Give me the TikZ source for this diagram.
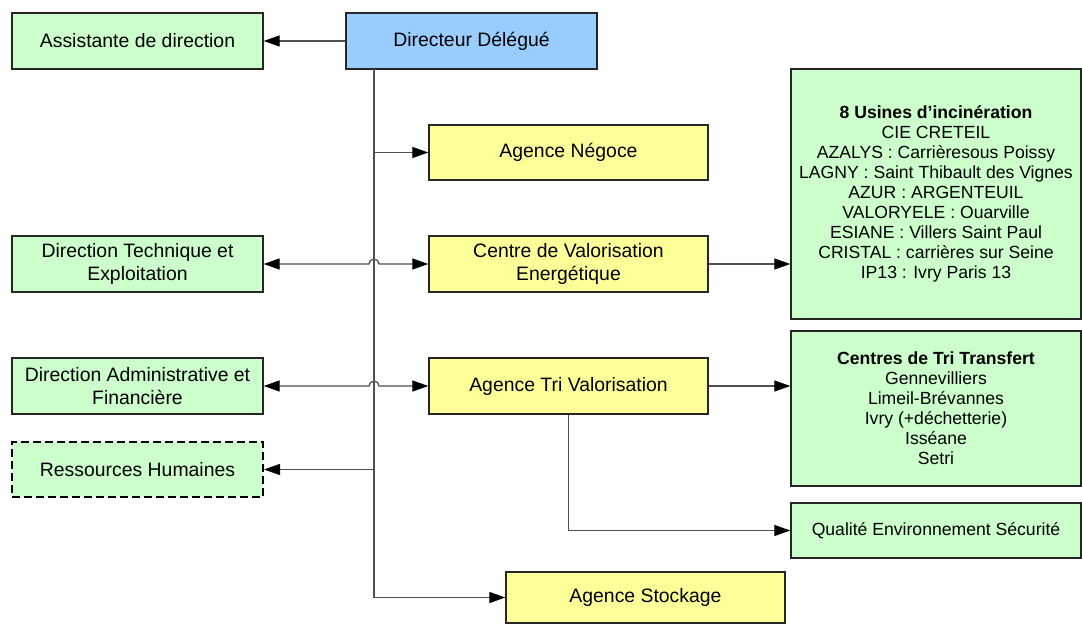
\documentclass[tikz,border=0pt]{standalone}
\usepackage{fontspec}
\setmainfont{Liberation Sans}
\usetikzlibrary{arrows.meta, calc}
\definecolor{boxgreen}{RGB}{204, 255, 204}
\definecolor{boxyellow}{RGB}{255, 255, 153}
\definecolor{boxblue}{RGB}{153, 204, 255}
\definecolor{linegray}{RGB}{80, 80, 80}

\begin{document}
\begin{tikzpicture}[
  x=1pt, y=-1pt,
  every node/.style={draw=black!85, line width=1.4pt, inner sep=0pt, align=center, font=\fontsize{19.4}{23}\selectfont},
  staff/.style={fill=boxgreen, minimum width=251pt, minimum height=56pt},
  vacant/.style={staff, draw=black, line width=2pt, dash pattern=on 8pt off 4pt},
  head/.style={fill=boxblue, minimum width=251pt, minimum height=56pt},
  agency/.style={fill=boxyellow, minimum width=279pt, minimum height=56pt},
  site/.style={fill=boxgreen, minimum width=290pt, font=\fontsize{17.6}{20}\selectfont},
  arr/.style={-{Triangle[length=16pt, width=11pt, color=black]}, line width=1.3pt, linegray},
  biarr/.style={{Triangle[length=16pt, width=11pt, color=black]}-{Triangle[length=16pt, width=11pt, color=black]}, line width=1.3pt, linegray}
]
  \useasboundingbox (0, 0) rectangle (1082, 624);

  % Top row
  \node[staff] (asst) at (137.5, 41) {Assistante de direction};
  \node[head]  (dir)  at (471.5, 41) {Directeur Délégué};
  \coordinate (trunk) at (374, 69);

  % Left column
  \node[staff]  (dte) at (137.5, 264)   {Direction Technique et\\Exploitation};
  \node[staff]  (daf) at (137.5, 386)   {Direction Administrative et\\Financière};
  \node[vacant, minimum height=55pt] (rh) at (137.5, 469.5) {Ressources Humaines};

  % Agencies
  \node[agency, minimum height=55pt] (negoce) at (568.5, 152.5) {Agence Négoce};
  \node[agency] (cve)   at (568.5, 264) {Centre de Valorisation\\Energétique};
  \node[agency] (tri)   at (568.5, 386) {Agence Tri Valorisation};
  \node[agency, minimum height=51pt] (stock) at (645.5, 597.5) {Agence Stockage};

  % Sites column
  \node[site, minimum height=250pt] (usines) at (936, 194) {\textbf{8 Usines d’incinération}\\CIE CRETEIL\\AZALYS : Carrièresous Poissy\\LAGNY : Saint Thibault des Vignes\\AZUR : ARGENTEUIL\\VALORYELE : Ouarville\\ESIANE : Villers Saint Paul\\CRISTAL : carrières sur Seine\\IP13 : Ivry Paris 13};
  \node[site, minimum height=155pt] (centres) at (936, 408.5) {\textbf{Centres de Tri Transfert}\\Gennevilliers\\Limeil-Brévannes\\Ivry (+déchetterie)\\Isséane\\Setri};
  \node[site, minimum height=55pt] (qualite) at (936, 530.5) {Qualité Environnement Sécurité};

  % Arrows
  \draw[arr] (dir.west) -- (asst.east);
  \draw[arr] (trunk) |- (stock.west);
  \draw[arr] (negoce.west -| trunk) -- (negoce.west);
  \draw[arr] (rh.east -| trunk) -- (rh.east);
  \draw[biarr] (dte.east) -- ($(dte.east -| trunk)+(-5, 0)$) arc[start angle=180, end angle=360, radius=5] -- (cve.west);
  \draw[biarr] (daf.east) -- ($(daf.east -| trunk)+(-5, 0)$) arc[start angle=180, end angle=360, radius=5] -- (tri.west);
  \draw[arr] (cve.east) -- (cve.east -| usines.west);
  \draw[arr] (tri.east) -- (tri.east -| centres.west);
  \draw[arr] (tri.south) |- (qualite.west);
\end{tikzpicture}
\end{document}
